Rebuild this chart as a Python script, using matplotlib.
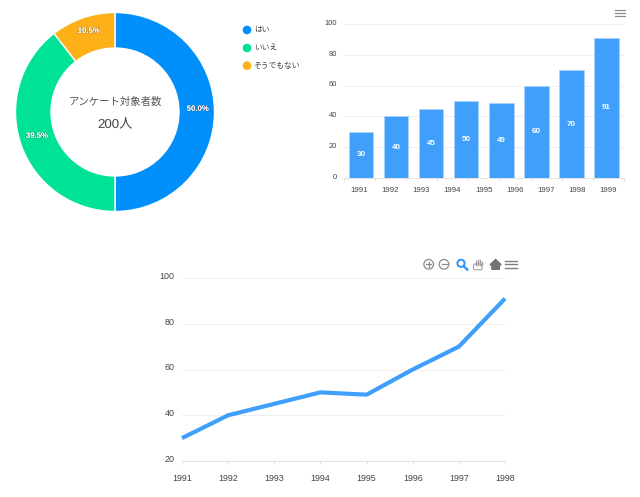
import matplotlib
matplotlib.use("Agg")
import matplotlib.pyplot as plt
import matplotlib.patheffects as pe
from matplotlib.patches import Circle, FancyBboxPatch

plt.rcParams['font.family'] = ['Liberation Sans', 'Noto Sans CJK JP', 'DejaVu Sans']

W, H = 640, 497

pie_labels = ['はい', 'いいえ', 'そうでもない']
pie_values = [50.0, 39.5, 10.5]
pie_colors = ['#008FFB', '#00E396', '#FEB019']

years = ['1991', '1992', '1993', '1994', '1995', '1996', '1997', '1998', '1999']
line_years = ['1991', '1992', '1993', '1994', '1995', '1996', '1997', '1998']
values = [30, 40, 45, 50, 49, 60, 70, 91]
bar_ticks = [0, 20, 40, 60, 80, 100]
line_ticks = [20, 40, 60, 80, 100]

BLUE = '#3F9FFB'
GRID = '#EFEFEF'
AXIS = '#E2E2E2'
TXT = '#444444'

fig = plt.figure(figsize=(W / 100, H / 100), dpi=100, facecolor='white')


def axes_px(x0, y0, x1, y1):
    return fig.add_axes([x0 / W, 1 - y1 / H, (x1 - x0) / W, (y1 - y0) / H])


def px_line(xs, ys, color, lw):
    fig.add_artist(plt.Line2D([x / W for x in xs], [1 - y / H for y in ys], color=color, lw=lw))


def menu(x, y, w, gap, color, lw):
    for dy in (-gap, 0, gap):
        px_line([x, x + w], [y + dy, y + dy], color, lw)


def y_labels(ax, ticks, dx_px, dy_px, size):
    ax.set_yticks(ticks)
    ax.set_yticklabels([])
    for t in ticks:
        ax.annotate(str(t), (0, t), xycoords=ax.get_yaxis_transform(),
                    xytext=(-dx_px * 0.72, dy_px * 0.72), textcoords='offset points',
                    ha='right', va='center', fontsize=size, color=TXT, annotation_clip=False)


# Donut
ax = axes_px(15.5, 12.5, 214.5, 211.5)
ax.pie(pie_values, colors=pie_colors, startangle=90, counterclock=False, radius=1,
       wedgeprops=dict(width=0.357, edgecolor='white', linewidth=1))
ax.set_xlim(-1, 1)
ax.set_ylim(-1, 1)
ax.set_aspect('equal')
shadow = [pe.withStroke(linewidth=0.8, foreground='#00000040')]
for (px, py, s) in [(197.7, 109.3, '50.0%'), (37, 136.3, '39.5%'), (88.7, 31.3, '10.5%')]:
    fig.text(px / W, 1 - py / H, s, ha='center', va='center', color='white', fontsize=5.6,
             fontweight='bold', path_effects=shadow)
fig.text(115 / W, 1 - 102 / H, 'アンケート対象者数', ha='center', va='center', fontsize=7.5, color='#555555')
fig.text(115 / W, 1 - 124.5 / H, '200人', ha='center', va='center', fontsize=9.6, color='#444444')

# Legend
for y, lab, c in zip((30, 48, 65.7), pie_labels, pie_colors):
    fig.add_artist(Circle((247, H - y), 3.6, transform=None, color=c))
    fig.text(253.7 / W, 1 - (y + 0.5) / H, lab, ha='left', va='center', fontsize=5.6, color=TXT)

# Bars: eight bars across the plot, nine category labels
ax = axes_px(343.5, 24, 624, 178)
bx = [i + 0.5 for i in range(len(values))]
ax.bar(bx, values, width=0.7, color=BLUE, edgecolor='#A9D3FD', linewidth=0.6, zorder=3)
for x, v in zip(bx, values):
    ax.text(x, v / 2, str(v), ha='center', va='center', color='white', fontsize=5.8,
            fontweight='bold', zorder=4)
ax.set_xlim(0, len(values))
ax.set_ylim(0, 100)
y_labels(ax, bar_ticks, 6.8, 0.8, 5.4)
step = len(values) / len(years)
ax.set_xticks([step * i for i in range(len(years) + 1)])
ax.set_xticklabels([''] * (len(years) + 1))
for i, y in enumerate(years):
    ax.text(step * (i + 0.5), -8.4, y, ha='center', va='center', fontsize=5.6, color=TXT, clip_on=False)
ax.tick_params(axis='x', length=2.2, width=0.7, color=AXIS)
ax.tick_params(axis='y', length=0)
ax.grid(axis='y', color=GRID, lw=0.7, zorder=0)
for s in ('top', 'left', 'right'):
    ax.spines[s].set_visible(False)
ax.spines['bottom'].set_color(AXIS)
menu(614.7, 13, 10, 3, '#8e8e8e', 0.9)

# Line
ax = axes_px(182, 278, 505, 461)
xs = list(range(len(values)))
ax.plot(xs, values, color=BLUE, lw=3.0, solid_joinstyle='round', solid_capstyle='butt', clip_on=False, zorder=3)
ax.set_xlim(0, len(values) - 1)
ax.set_ylim(20, 100)
y_labels(ax, line_ticks, 7.3, 1.7, 6.4)
ax.set_xticks(xs)
ax.set_xticklabels(line_years, fontsize=6.4, color=TXT)
ax.tick_params(axis='x', length=2.2, width=0.7, color=AXIS, pad=7.5)
ax.tick_params(axis='y', length=0)
ax.grid(axis='y', color=GRID, lw=0.7, zorder=0)
for s in ('top', 'left', 'right'):
    ax.spines[s].set_visible(False)
ax.spines['bottom'].set_color(AXIS)

# Toolbar
GREY = '#8a8a8a'
fig.add_artist(Circle((428.7, H - 264.3), 4.8, transform=None, fill=False, ec=GREY, lw=0.9))
fig.add_artist(Circle((444, H - 264.3), 4.8, transform=None, fill=False, ec=GREY, lw=0.9))
px_line([426.2, 431.2], [264.3, 264.3], GREY, 0.9)
px_line([428.7, 428.7], [261.8, 266.8], GREY, 0.9)
px_line([441.5, 446.5], [264.3, 264.3], GREY, 0.9)
fig.add_artist(Circle((461, H - 263.3), 3.6, transform=None, fill=False, ec='#2E93FA', lw=1.4))
px_line([463.8, 467.2], [266.2, 269.6], '#2E93FA', 1.7)
# hand
fig.add_artist(FancyBboxPatch((473.5, H - 269.8), 8.5, 5.8, boxstyle='round,pad=0,rounding_size=1.5',
                              transform=None, fill=False, ec='#a0a0a0', lw=0.8))
for hx, top in ((475.5, 261), (477.5, 259.5), (479.5, 260), (481.6, 261.5)):
    px_line([hx, hx], [top, 265], '#a0a0a0', 1.0)
# home
fig.add_artist(plt.Polygon([(490, H - 264.8), (495.6, H - 259.5), (501.2, H - 264.8), (499.4, H - 264.8),
                            (499.4, H - 269.3), (491.8, H - 269.3), (491.8, H - 264.8)],
                           transform=None, color='#6e7478'))
menu(505, 264.3, 11.7, 3.3, '#7f7f7f', 1.0)

fig.savefig('out.png', dpi=100)
